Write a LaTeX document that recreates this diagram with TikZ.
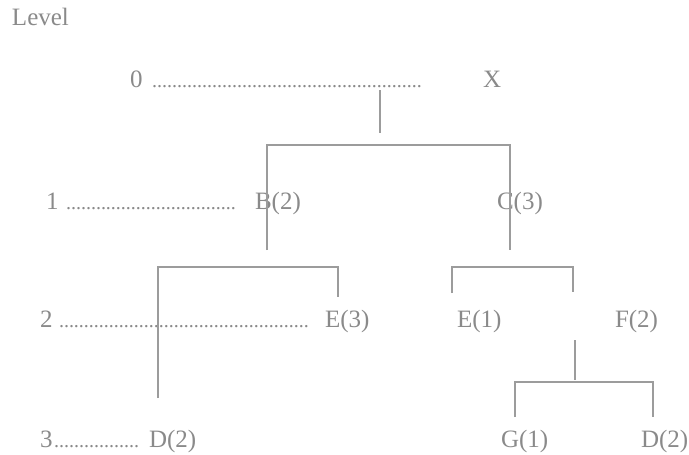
\documentclass[tikz,border=0pt]{standalone}
\usepackage{fontspec}
\setmainfont{Liberation Serif}
\definecolor{txtgray}{HTML}{8A8A8A}
\definecolor{lngray}{HTML}{9C9C9C}
\newcommand{\dotrow}[1]{\hbox to #1{\leaders\hbox to 5pt{\hss.\hss}\hfill}}
\begin{document}
\begin{tikzpicture}[x=1pt,y=-1pt,
  lbl/.style={anchor=base west, inner sep=0pt, outer sep=0pt, text=txtgray, font=\fontsize{25}{30}\selectfont},
  dotline/.style={anchor=base west, inner sep=0pt, outer sep=0pt, text=txtgray, font=\fontsize{20}{24}\selectfont},
  edge/.style={draw=lngray, line width=1.3pt}]
\useasboundingbox (0,0) rectangle (689,455);
% texts
\node[lbl] (level) at (12,26) {Level};
\node[lbl] (l0) at (130,87) {0};
\node[dotline] (d0) at (152,87) {\dotrow{272pt}};
\node[lbl] (X) at (483,87) {X};
\node[lbl] (l1) at (46,209) {1};
\node[dotline] (d1) at (66,209) {\dotrow{174pt}};
\node[lbl] (B) at (255,209) {B(2)};
\node[lbl] (C) at (497,209) {C(3)};
\node[lbl] (l2) at (40,327) {2};
\node[dotline] (d2) at (59,327) {\dotrow{253pt}};
\node[lbl] (E3) at (325,327) {E(3)};
\node[lbl] (E1) at (457,327) {E(1)};
\node[lbl] (F2) at (615,327) {F(2)};
\node[lbl] (l3) at (40,447) {3};
\node[dotline] (d3) at (54,447) {\dotrow{88pt}};
\node[lbl] (D2a) at (149,447) {D(2)};
\node[lbl] (G1) at (501,447) {G(1)};
\node[lbl] (D2b) at (641,447) {D(2)};
% coordinates
\coordinate (rt) at (380,90);
\coordinate (rb) at (380,133);
\coordinate (b1) at (267,250);
\coordinate (b1t) at (267,145);
\coordinate (c1t) at (510,145);
\coordinate (c1) at (510,250);
\coordinate (lb1) at (158,398);
\coordinate (lb2) at (158,267);
\coordinate (lb3) at (338,267);
\coordinate (lb4) at (338,297);
\coordinate (rb1) at (452,293);
\coordinate (rb2) at (452,267);
\coordinate (rb3) at (573,267);
\coordinate (rb4) at (573,292);
\coordinate (ft) at (575,340);
\coordinate (fb) at (575,380);
\coordinate (bb1) at (515,417);
\coordinate (bb2) at (515,382);
\coordinate (bb3) at (653,382);
\coordinate (bb4) at (653,417);
% lines
\draw[edge] (rt) -- (rb);
\draw[edge] (b1) -- (b1t) -- (c1t) -- (c1);
\draw[edge] (lb1) -- (lb2) -- (lb3) -- (lb4);
\draw[edge] (rb1) -- (rb2) -- (rb3) -- (rb4);
\draw[edge] (ft) -- (fb);
\draw[edge] (bb1) -- (bb2) -- (bb3) -- (bb4);
\end{tikzpicture}
\end{document}
